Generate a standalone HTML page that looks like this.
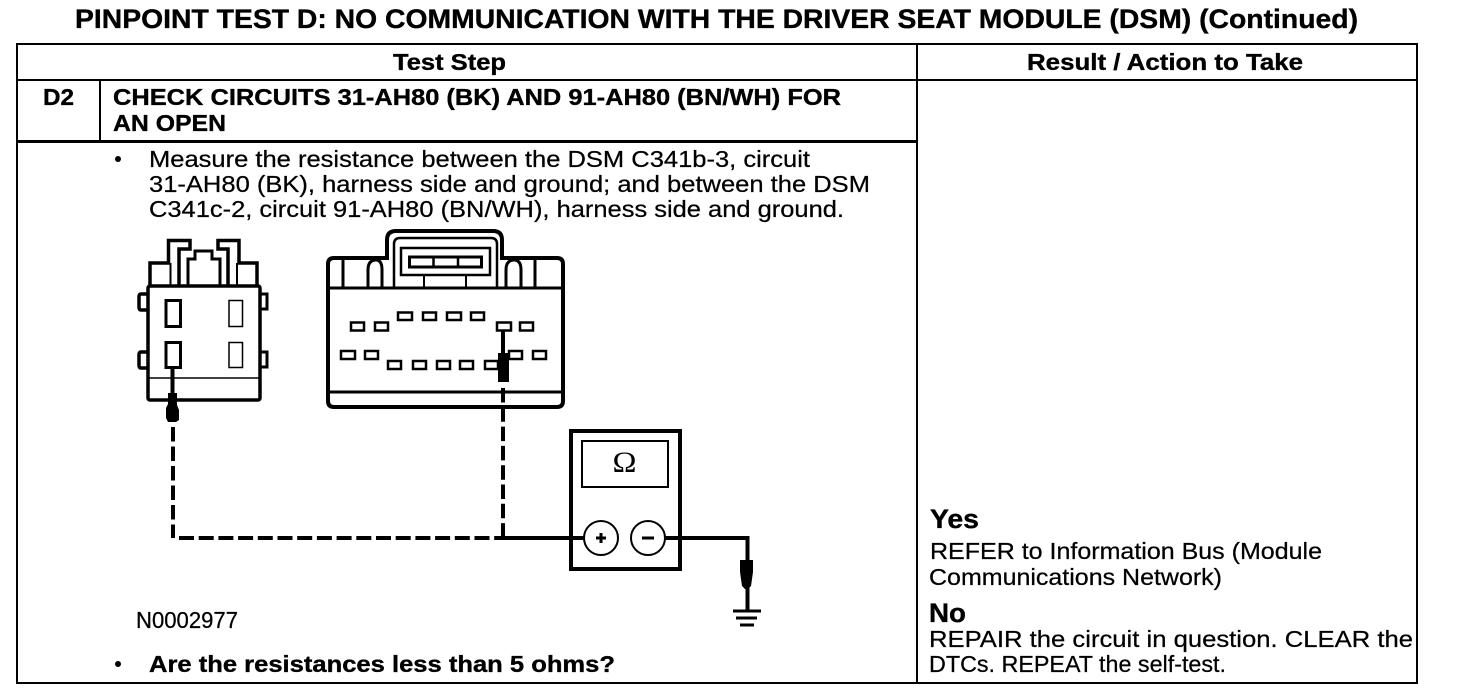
<!DOCTYPE html>
<html><head><meta charset="utf-8"><style>
html,body{margin:0;padding:0;background:#fff;width:1472px;height:700px;overflow:hidden}
svg{display:block}
text{font-family:"Liberation Sans",Arial,sans-serif;fill:#000;font-size:23.500px;stroke:#000;stroke-width:.25px}
.b{font-weight:bold;font-size:23px;stroke-width:.35px}
</style></head><body>
<svg width="1472" height="700" viewBox="0 0 1472 700" xmlns="http://www.w3.org/2000/svg">
<rect width="1472" height="700" fill="#fff"/>
<text class="b" x="75" y="28" style="font-size:26.500px" textLength="1283" lengthAdjust="spacingAndGlyphs">PINPOINT TEST D: NO COMMUNICATION WITH THE DRIVER SEAT MODULE (DSM) (Continued)</text>
<g fill="none" stroke="#000" stroke-width="2">
<rect x="17" y="44" width="1400" height="639"/>
<path d="M17 80H1417M917 44V683M100 80V141"/>
<path d="M17 141.500H917" stroke-width="3"/>
</g>
<text class="b" x="393" y="70" textLength="113" lengthAdjust="spacingAndGlyphs">Test Step</text>
<text class="b" x="1027" y="70" textLength="276" lengthAdjust="spacingAndGlyphs">Result / Action to Take</text>
<text class="b" x="43" y="105" textLength="31" lengthAdjust="spacingAndGlyphs">D2</text>
<text class="b" x="113" y="105" textLength="728" lengthAdjust="spacingAndGlyphs">CHECK CIRCUITS 31-AH80 (BK) AND 91-AH80 (BN/WH) FOR</text>
<text class="b" x="113" y="131" textLength="113" lengthAdjust="spacingAndGlyphs">AN OPEN</text>
<circle cx="118" cy="159" r="3" fill="#000"/>
<text x="149" y="167" textLength="661" lengthAdjust="spacingAndGlyphs">Measure the resistance between the DSM C341b-3, circuit</text>
<text x="149" y="192" textLength="721" lengthAdjust="spacingAndGlyphs">31-AH80 (BK), harness side and ground; and between the DSM</text>
<text x="149" y="217" textLength="695" lengthAdjust="spacingAndGlyphs">C341c-2, circuit 91-AH80 (BN/WH), harness side and ground.</text>

<!-- left connector -->
<g fill="none" stroke="#000">
<g stroke-width="3.500">
<rect x="148" y="286" width="112" height="114" rx="2"/>
<path d="M150 286V263H168.500V240.500H190V249H179V286"/>
<path d="M257 286V263H239V240.500H218V249H228V286"/>
<path d="M188 286V259H195V251H212V259H220V286" stroke-width="3"/>
<path d="M147 294H141Q139 294 139 297V307Q139 310 141 310H147M147 352H141Q139 352 139 355V365Q139 368 141 368H147"/>
<path d="M261 294H267V309H261M261 352H267V367H261" stroke-width="3"/>
</g>
<path d="M170.500 263V286M237 263V286" stroke-width="2"/>
<path d="M147 378H260" stroke-width="1.500"/>
<rect x="166" y="300.500" width="14.500" height="26" stroke-width="3"/>
<rect x="229" y="300.500" width="13.500" height="26" stroke-width="1.500"/>
<rect x="166" y="342.500" width="14.500" height="25" stroke-width="3"/>
<rect x="229" y="342.500" width="13.500" height="25" stroke-width="1.500"/>
</g>
<path d="M172.500 368V393" stroke="#000" stroke-width="4"/>
<path d="M168 393H177V405L179 410V420L176 422H168L166 418V408L168 404Z" fill="#000"/>

<!-- right connector -->
<g fill="none" stroke="#000">
<path d="M387 258H334Q328 258 328 264V401Q328 407 334 407H557Q563 407 563 401V264Q563 258 557 258H502V240Q502 231 493 231H396Q387 231 387 240Z" stroke-width="4"/>
<path d="M328 288H563M328 392H563" stroke-width="3"/>
<path d="M394 288V244Q394 238 400 238H491Q497 238 497 244V288" stroke-width="2.500"/>
<rect x="401" y="248" width="89" height="27" stroke-width="2.500"/>
<path d="M424 275V288M466 275V288" stroke-width="2"/>
<rect x="409.500" y="257" width="72" height="10" stroke-width="3"/>
<path d="M433.500 257V267M458 257V267" stroke-width="2.500"/>
<path d="M343 260V288M368 288V270Q368 260 376 260Q382 260 382 270V288M506 288V270Q506 260 514 260Q521 260 521 270V288M535 260V288" stroke-width="3"/>
<g stroke-width="2.500">
<rect x="398" y="312.500" width="14" height="7.500"/><rect x="423" y="312.500" width="13" height="7.500"/><rect x="447" y="312.500" width="14" height="7.500"/><rect x="471" y="312.500" width="13" height="7.500"/>
<rect x="351" y="322.500" width="13" height="8"/><rect x="375" y="322.500" width="13" height="8"/><rect x="497" y="322.500" width="14" height="8"/><rect x="520" y="322.500" width="13" height="8"/>
<rect x="341" y="351" width="14" height="8"/><rect x="365" y="351" width="13" height="8"/><rect x="509" y="351" width="13" height="8"/><rect x="533" y="351" width="13" height="8"/>
<rect x="388" y="361" width="13" height="8"/><rect x="413" y="361" width="13" height="8"/><rect x="437" y="361" width="13" height="8"/><rect x="460" y="361" width="13" height="8"/><rect x="485" y="361" width="13" height="8"/>
</g>
</g>
<path d="M503 331V353" stroke="#000" stroke-width="4"/>
<rect x="498" y="353" width="11" height="29" fill="#000"/>

<!-- wiring -->
<g fill="none" stroke="#000" stroke-width="4">
<path d="M173 427V538" stroke-dasharray="14.500 5"/>
<path d="M179 538H503" stroke-dasharray="15 4.700"/>
<path d="M503 388V538" stroke-dasharray="14.500 4.800"/>
<path d="M503 538H584M665 538H747.500V610"/>
<path d="M733 611H761" stroke-width="3"/>
<path d="M736 618H757" stroke-width="3"/>
<path d="M740 625H754" stroke-width="3"/>
</g>
<path d="M740 560H753V572L751 586L748 589H745L742 586L740 572Z" fill="#000"/>

<!-- meter -->
<rect x="571" y="431" width="109" height="138" fill="none" stroke="#000" stroke-width="4"/>
<rect x="582" y="441" width="86" height="46" fill="#fff" stroke="#000" stroke-width="2"/>
<circle cx="601" cy="538" r="17" fill="#fff" stroke="#000" stroke-width="2"/>
<circle cx="648" cy="538" r="17" fill="#fff" stroke="#000" stroke-width="2"/>
<path d="M596 538H606M601 533V543M642 538H654" stroke="#000" stroke-width="3" fill="none"/>
<text x="612.500" y="472" style="font-size:30px;font-family:'Liberation Serif',serif;stroke-width:0" textLength="24" lengthAdjust="spacingAndGlyphs">Ω</text>

<text x="136" y="628" textLength="102" lengthAdjust="spacingAndGlyphs">N0002977</text>
<circle cx="118" cy="664" r="3" fill="#000"/>
<text class="b" x="149" y="672" textLength="466" lengthAdjust="spacingAndGlyphs">Are the resistances less than 5 ohms?</text>

<text class="b" x="930" y="528" style="font-size:26.500px" textLength="49" lengthAdjust="spacingAndGlyphs">Yes</text>
<text x="930" y="559" textLength="392" lengthAdjust="spacingAndGlyphs">REFER to Information Bus (Module</text>
<text x="929" y="585" textLength="293" lengthAdjust="spacingAndGlyphs">Communications Network)</text>
<text class="b" x="929" y="622" style="font-size:26.500px" textLength="37" lengthAdjust="spacingAndGlyphs">No</text>
<text x="929" y="647" textLength="484" lengthAdjust="spacingAndGlyphs">REPAIR the circuit in question. CLEAR the</text>
<text x="929" y="672" textLength="297" lengthAdjust="spacingAndGlyphs">DTCs. REPEAT the self-test.</text>
</svg>
</body></html>
